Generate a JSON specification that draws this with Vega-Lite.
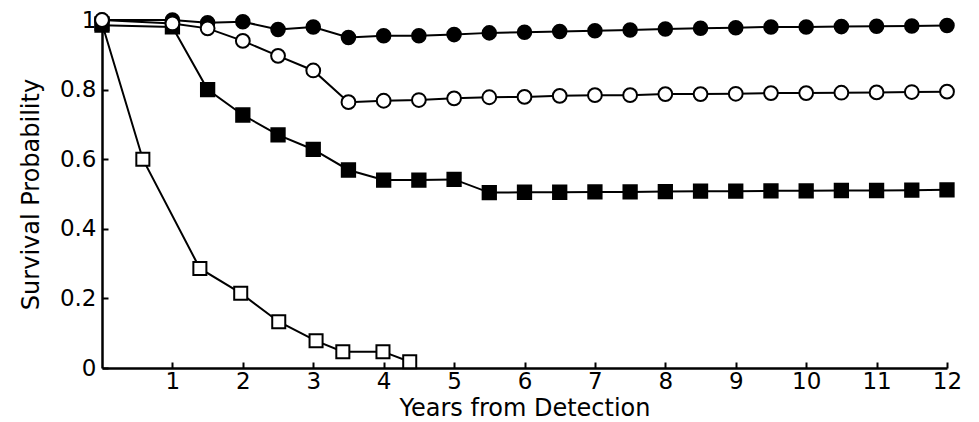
{
  "$schema": "https://vega.github.io/schema/vega-lite/v6.json",
  "width": 845,
  "height": 348,
  "autosize": "none",
  "padding": {"left": 102, "top": 20, "right": 32, "bottom": 54},
  "background": "white",
  "config": {
    "view": {"stroke": null},
    "font": "DejaVu Sans"
  },
  "data": {
    "values": [
      {"series": "Open square", "year": 0, "p": 0.99},
      {"series": "Open square", "year": 0.58, "p": 0.6},
      {"series": "Open square", "year": 1.39, "p": 0.286},
      {"series": "Open square", "year": 1.97, "p": 0.215},
      {"series": "Open square", "year": 2.51, "p": 0.133},
      {"series": "Open square", "year": 3.04, "p": 0.078},
      {"series": "Open square", "year": 3.42, "p": 0.047},
      {"series": "Open square", "year": 3.99, "p": 0.047},
      {"series": "Open square", "year": 4.37, "p": 0.018},

      {"series": "Filled square", "year": 0, "p": 0.985},
      {"series": "Filled square", "year": 1, "p": 0.98},
      {"series": "Filled square", "year": 1.5, "p": 0.8},
      {"series": "Filled square", "year": 2, "p": 0.727},
      {"series": "Filled square", "year": 2.5, "p": 0.67},
      {"series": "Filled square", "year": 3, "p": 0.628},
      {"series": "Filled square", "year": 3.5, "p": 0.569},
      {"series": "Filled square", "year": 4, "p": 0.54},
      {"series": "Filled square", "year": 4.5, "p": 0.54},
      {"series": "Filled square", "year": 5, "p": 0.542},
      {"series": "Filled square", "year": 5.5, "p": 0.504},
      {"series": "Filled square", "year": 6, "p": 0.505},
      {"series": "Filled square", "year": 6.5, "p": 0.505},
      {"series": "Filled square", "year": 7, "p": 0.506},
      {"series": "Filled square", "year": 7.5, "p": 0.506},
      {"series": "Filled square", "year": 8, "p": 0.507},
      {"series": "Filled square", "year": 8.5, "p": 0.508},
      {"series": "Filled square", "year": 9, "p": 0.508},
      {"series": "Filled square", "year": 9.5, "p": 0.509},
      {"series": "Filled square", "year": 10, "p": 0.509},
      {"series": "Filled square", "year": 10.5, "p": 0.51},
      {"series": "Filled square", "year": 11, "p": 0.51},
      {"series": "Filled square", "year": 11.5, "p": 0.511},
      {"series": "Filled square", "year": 12, "p": 0.512},

      {"series": "Filled circle", "year": 0, "p": 1.0},
      {"series": "Filled circle", "year": 1, "p": 1.0},
      {"series": "Filled circle", "year": 1.5, "p": 0.992},
      {"series": "Filled circle", "year": 2, "p": 0.995},
      {"series": "Filled circle", "year": 2.5, "p": 0.973},
      {"series": "Filled circle", "year": 3, "p": 0.98},
      {"series": "Filled circle", "year": 3.5, "p": 0.95},
      {"series": "Filled circle", "year": 4, "p": 0.955},
      {"series": "Filled circle", "year": 4.5, "p": 0.955},
      {"series": "Filled circle", "year": 5, "p": 0.958},
      {"series": "Filled circle", "year": 5.5, "p": 0.963},
      {"series": "Filled circle", "year": 6, "p": 0.965},
      {"series": "Filled circle", "year": 6.5, "p": 0.967},
      {"series": "Filled circle", "year": 7, "p": 0.969},
      {"series": "Filled circle", "year": 7.5, "p": 0.971},
      {"series": "Filled circle", "year": 8, "p": 0.974},
      {"series": "Filled circle", "year": 8.5, "p": 0.976},
      {"series": "Filled circle", "year": 9, "p": 0.978},
      {"series": "Filled circle", "year": 9.5, "p": 0.98},
      {"series": "Filled circle", "year": 10, "p": 0.98},
      {"series": "Filled circle", "year": 10.5, "p": 0.981},
      {"series": "Filled circle", "year": 11, "p": 0.982},
      {"series": "Filled circle", "year": 11.5, "p": 0.983},
      {"series": "Filled circle", "year": 12, "p": 0.984},

      {"series": "Open circle", "year": 0, "p": 1.0},
      {"series": "Open circle", "year": 1, "p": 0.99},
      {"series": "Open circle", "year": 1.5, "p": 0.976},
      {"series": "Open circle", "year": 2, "p": 0.94},
      {"series": "Open circle", "year": 2.5, "p": 0.897},
      {"series": "Open circle", "year": 3, "p": 0.855},
      {"series": "Open circle", "year": 3.5, "p": 0.764},
      {"series": "Open circle", "year": 4, "p": 0.768},
      {"series": "Open circle", "year": 4.5, "p": 0.77},
      {"series": "Open circle", "year": 5, "p": 0.775},
      {"series": "Open circle", "year": 5.5, "p": 0.778},
      {"series": "Open circle", "year": 6, "p": 0.779},
      {"series": "Open circle", "year": 6.5, "p": 0.782},
      {"series": "Open circle", "year": 7, "p": 0.784},
      {"series": "Open circle", "year": 7.5, "p": 0.784},
      {"series": "Open circle", "year": 8, "p": 0.787},
      {"series": "Open circle", "year": 8.5, "p": 0.787},
      {"series": "Open circle", "year": 9, "p": 0.788},
      {"series": "Open circle", "year": 9.5, "p": 0.79},
      {"series": "Open circle", "year": 10, "p": 0.79},
      {"series": "Open circle", "year": 10.5, "p": 0.791},
      {"series": "Open circle", "year": 11, "p": 0.792},
      {"series": "Open circle", "year": 11.5, "p": 0.793},
      {"series": "Open circle", "year": 12, "p": 0.794}
    ]
  },
  "encoding": {
    "x": {
      "field": "year",
      "type": "quantitative",
      "scale": {"domain": [0, 12], "nice": false, "zero": false},
      "axis": {
        "title": "Years from Detection",
        "values": [1, 2, 3, 4, 5, 6, 7, 8, 9, 10, 11, 12],
        "grid": false,
        "domainColor": "black",
        "domainWidth": 2.5,
        "tickColor": "black",
        "tickWidth": 2,
        "tickSize": -6,
        "labelColor": "black",
        "labelFont": "DejaVu Sans",
        "labelFontSize": 23,
        "labelPadding": 8,
        "labelFlush": false,
        "labelOverlap": false,
        "titleColor": "black",
        "titleFont": "DejaVu Sans",
        "titleFontSize": 24,
        "titleFontWeight": "normal",
        "titlePadding": 3
      }
    },
    "y": {
      "field": "p",
      "type": "quantitative",
      "scale": {"domain": [0, 1], "nice": false},
      "axis": {
        "title": "Survival Probability",
        "values": [0, 0.2, 0.4, 0.6, 0.8, 1],
        "format": "~g",
        "grid": false,
        "domainColor": "black",
        "domainWidth": 2.5,
        "tickColor": "black",
        "tickWidth": 2,
        "tickSize": -6,
        "labelColor": "black",
        "labelFont": "DejaVu Sans",
        "labelFontSize": 23,
        "labelPadding": 12,
        "labelFlush": false,
        "labelOverlap": false,
        "titleColor": "black",
        "titleFont": "DejaVu Sans",
        "titleFontSize": 24,
        "titleFontWeight": "normal",
        "titlePadding": 16
      }
    }
  },
  "layer": [
    {
      "mark": {"type": "line", "color": "black", "strokeWidth": 2},
      "encoding": {"detail": {"field": "series"}}
    },
    {
      "mark": {"type": "point", "filled": true, "stroke": "black", "strokeWidth": 2, "opacity": 1},
      "encoding": {
        "shape": {
          "field": "series",
          "scale": {"domain": ["Open square", "Filled square", "Filled circle", "Open circle"], "range": ["square", "square", "circle", "circle"]},
          "legend": null
        },
        "fill": {
          "field": "series",
          "scale": {"domain": ["Open square", "Filled square", "Filled circle", "Open circle"], "range": ["white", "black", "black", "white"]},
          "legend": null
        },
        "size": {
          "field": "series",
          "scale": {"domain": ["Open square", "Filled square", "Filled circle", "Open circle"], "range": [170, 190, 170, 160]},
          "legend": null
        }
      }
    }
  ]
}
